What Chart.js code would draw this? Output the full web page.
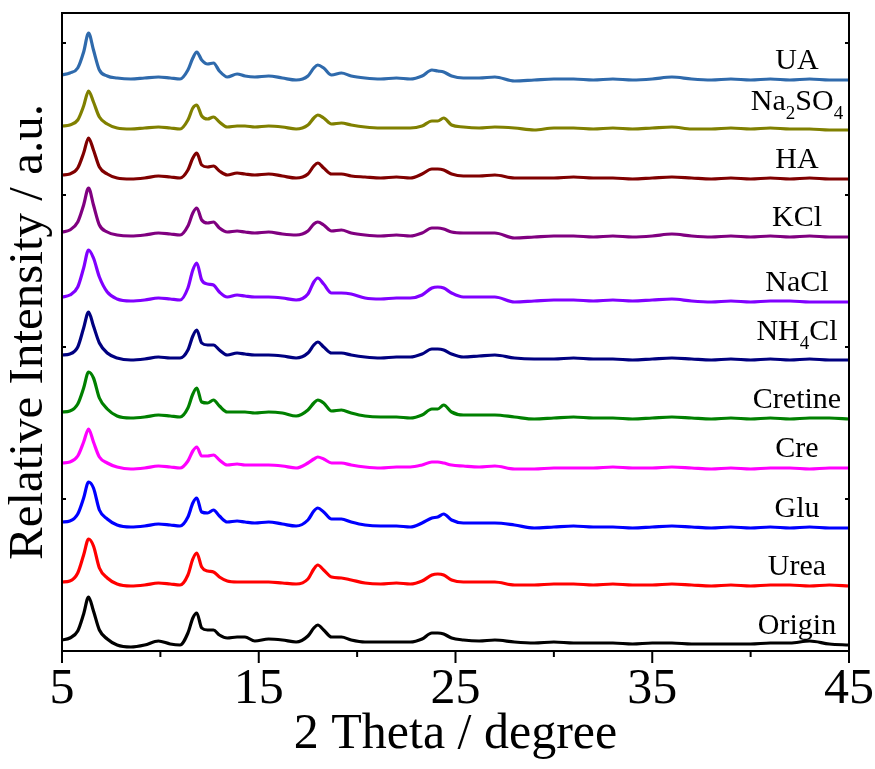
<!DOCTYPE html>
<html>
<head>
<meta charset="utf-8">
<script src="https://cdn.jsdelivr.net/npm/chart.js@4/dist/chart.umd.min.js"></script>
<style>
html,body{margin:0;padding:0;background:#fff;}
canvas{display:block;}
</style>
</head>
<body>
<canvas id="c" width="875" height="769"></canvas>
<script>
// 2θ positions (degree)
const twoTheta = [5,5.4,5.8,6.1,6.35,6.6,6.9,7.3,7.8,8.5,9.2,9.9,10.5,11.0,11.4,11.65,11.85,12.1,12.4,12.7,13.0,13.4,13.9,14.3,14.8,15.5,16.2,16.9,17.5,17.8,18.0,18.3,18.7,19.2,19.7,20.4,21.2,22.0,22.7,23.3,23.8,24.1,24.4,24.8,25.4,26.2,27.0,28.0,29.0,30.0,31,32,33,34,35,36,37,38,39,40,41,42,43,44,45];

// series names (top to bottom)
const seriesNames = ['UA','Na2SO4','HA','KCl','NaCl','NH4Cl','Cretine','Cre','Glu','Urea','Origin'];
const seriesColors = ['#2F6AAC','#808000','#800000','#800080','#8000FF','#000080','#008000','#FF00FF','#0000FF','#FF0000','#000000'];

// relative intensities (stacked, a.u.)
const UA = [576,578,583,599,618,601,581,575,573,572,573,574,573,572,581,593,599,591,587,588,580,574,577,575,574,575,573,571,575,583,586,583,576,578,575,573,572,573,572,575,581,580,579,575,573,573,574,570,571,572,572,571,572,571,572,574,572,571,572,571,572,571,572,571,571];
const Na2SO4 = [525,526,531,545,560,549,534,527,523,522,523,524,523,522,531,543,546,535,532,534,529,524,525,525,524,525,524,522,526,533,536,533,527,528,526,524,523,523,523,525,530,530,533,526,524,523,524,523,521,523,523,522,523,522,523,524,522,522,523,522,523,522,522,521,521];
const HA = [476,477,483,498,513,501,484,477,473,472,473,475,474,473,481,493,498,486,484,485,480,476,478,477,476,477,475,473,477,485,488,483,477,477,475,474,473,474,473,477,482,482,481,477,475,475,476,473,473,473,474,473,473,472,473,474,473,472,473,472,473,472,473,472,472];
const KCl = [419,421,429,446,463,446,426,419,416,415,416,418,417,416,425,438,443,431,428,429,423,419,420,419,418,419,417,416,420,427,429,426,420,421,418,416,415,416,415,418,423,423,422,419,418,418,418,413,414,415,415,414,415,414,415,417,415,414,415,414,415,414,415,414,414];
const NaCl = [354,356,364,383,401,393,374,359,352,350,351,353,352,351,363,381,388,371,367,366,359,354,356,355,354,354,353,351,357,369,373,367,358,358,357,353,352,353,353,356,363,364,363,358,354,354,354,349,350,351,351,350,351,350,351,352,350,349,350,349,350,350,349,349,349];
const NH4Cl = [296,297,304,323,339,325,308,298,293,291,292,294,293,293,301,315,321,308,306,306,301,296,298,297,296,296,295,293,298,306,309,304,298,298,296,294,293,294,294,297,302,302,301,297,294,295,296,293,292,292,293,292,292,291,292,293,292,291,292,291,292,291,292,291,291];
const Cretine = [239,240,247,263,279,273,253,242,235,233,234,236,235,234,243,257,263,249,248,251,245,239,239,239,238,239,238,235,241,248,251,248,240,241,238,235,234,234,233,236,242,242,246,239,236,236,236,234,232,233,234,233,233,232,233,234,233,232,233,232,233,232,233,233,232];
const Cre = [188,189,195,209,222,209,194,188,184,182,183,185,184,183,190,200,204,195,195,196,191,186,187,186,186,186,185,183,188,192,194,192,188,188,186,184,183,184,184,186,189,189,188,186,185,184,185,182,182,183,183,183,184,183,183,184,183,182,183,182,183,183,182,183,183];
const Glu = [129,130,137,153,169,163,141,132,126,124,125,127,126,125,134,148,153,139,138,141,135,129,130,129,128,129,127,125,131,140,143,139,132,132,129,126,125,125,124,128,133,134,137,131,128,128,128,126,123,124,125,124,124,123,124,125,124,123,124,123,124,123,124,123,123];
const Urea = [69,70,78,96,112,105,83,73,67,65,66,68,67,66,76,92,98,84,80,79,74,70,69,69,69,69,68,67,72,82,86,81,74,73,71,68,67,68,67,70,76,77,76,71,69,69,69,66,66,67,67,66,67,66,66,67,66,65,66,65,66,66,65,66,65];
const Origin = [11,13,20,37,54,40,21,12,6,4,6,10,7,6,18,33,38,23,21,21,16,13,14,14,10,12,11,9,15,23,26,21,14,14,11,9,9,9,9,12,18,18,17,13,11,10,11,9,8,9,8,8,8,7,8,8,7,7,7,7,8,8,10,7,6];

const seriesValues = [UA,Na2SO4,HA,KCl,NaCl,NH4Cl,Cretine,Cre,Glu,Urea,Origin];

// x tick labels
const xTickLabels = [5,15,25,35,45];

const datasets = seriesNames.map((n,i)=>({
  label:n,
  data: twoTheta.map((x,k)=>({x:x,y:seriesValues[i][k]})),
  borderColor: seriesColors[i],
  backgroundColor: seriesColors[i],
  borderWidth: 3.2,
  pointRadius: 0,
  cubicInterpolationMode: 'monotone',
  fill: false
}));

const SERIF = "'Liberation Serif','Times New Roman',serif";

const framePlugin = {
  id:'framePlugin',
  afterDraw(chart){
    const {ctx, chartArea:a, scales:{x,y}} = chart;
    ctx.save();
    ctx.strokeStyle = '#000';
    ctx.lineWidth = 2;
    ctx.strokeRect(a.left, a.top, a.right-a.left, a.bottom-a.top);
    const seg=(x1,y1,x2,y2)=>{ctx.beginPath();ctx.moveTo(x1,y1);ctx.lineTo(x2,y2);ctx.stroke();};
    // bottom ticks (major outward 12, minor 6)
    for(let v=5; v<=45; v+=5){
      const px = x.getPixelForValue(v);
      const major = xTickLabels.includes(v);
      seg(px, a.bottom, px, a.bottom + (major?12:6));
    }
    // y ticks inward on both sides
    y.ticks.forEach(t=>{
      if(t.value<=0) return;
      const py = y.getPixelForValue(t.value);
      seg(a.left, py, a.left+4, py);
      seg(a.right, py, a.right-4, py);
    });
    // series labels
    ctx.fillStyle = '#000';
    ctx.textBaseline = 'alphabetic';
    chart.data.datasets.forEach((ds,i)=>{
      const name = seriesNames[i];
      const last = ds.data[ds.data.length-1].y;
      const py = y.getPixelForValue(last);
      const parts = name.split(/(\d+)/).filter(s=>s.length);
      const hasSub = parts.some(p=>/^\d+$/.test(p));
      const mainF = '30px '+SERIF, subF = '19px '+SERIF;
      let total = 0;
      parts.forEach(p=>{ctx.font = /^\d+$/.test(p)?subF:mainF; total += ctx.measureText(p).width;});
      const cx = a.right - 52;
      let xx = cx - total/2;
      const base = py - (hasSub?20:11);
      parts.forEach(p=>{
        const sub = /^\d+$/.test(p);
        ctx.font = sub?subF:mainF;
        ctx.textAlign = 'left';
        ctx.fillText(p, xx, sub?base+9:base);
        xx += ctx.measureText(p).width;
      });
    });
    ctx.restore();
  }
};

new Chart(document.getElementById('c'), {
  type:'line',
  data:{datasets},
  options:{
    responsive:false,
    animation:false,
    devicePixelRatio:1,
    layout:{padding:{top:13,right:26,left:0,bottom:0}},
    plugins:{legend:{display:false},tooltip:{enabled:false},title:{display:false}},
    scales:{
      x:{
        type:'linear', min:5, max:45,
        grid:{display:false, drawTicks:false},
        border:{display:false},
        ticks:{
          stepSize:5, autoSkip:false, maxRotation:0, padding:9,
          color:'#000', font:{family:SERIF, size:50},
          callback:(v)=> xTickLabels.includes(v) ? String(v) : ''
        },
        title:{display:true, text:'2 Theta / degree', color:'#000', font:{family:SERIF, size:50}, padding:{top:0,bottom:4}},
        afterFit(s){ s.height = 118; s.paddingRight = 0; s.paddingLeft = 0; }
      },
      y:{
        type:'linear', min:0, max:638,
        grid:{display:false, drawTicks:false},
        border:{display:false},
        ticks:{display:false, stepSize:152},
        title:{display:true, text:'Relative Intensity / a.u.', color:'#000', font:{family:SERIF, size:49}, padding:{top:0,bottom:0}},
        afterFit(s){ s.width = 62; s.paddingTop = 0; s.paddingBottom = 0; }
      }
    }
  },
  plugins:[framePlugin]
});
</script>
</body>
</html>
